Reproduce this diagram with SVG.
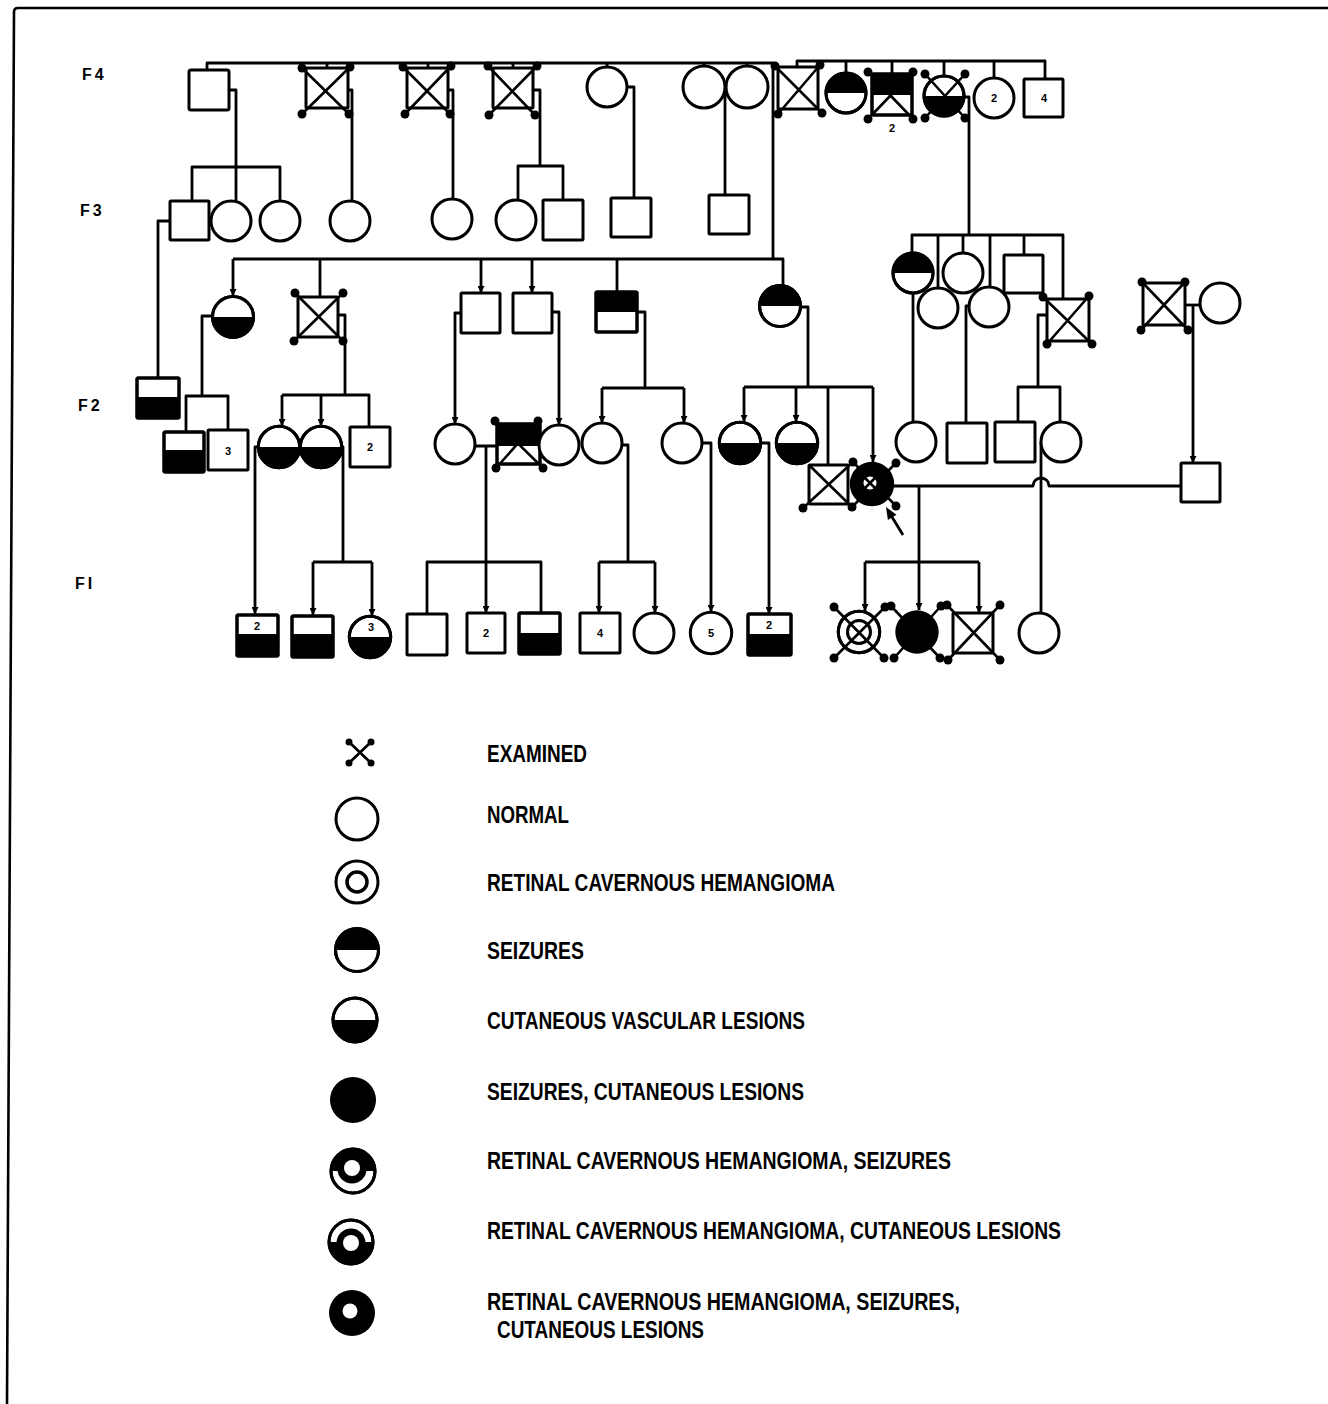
<svg xmlns="http://www.w3.org/2000/svg" width="1328" height="1404" viewBox="0 0 1328 1404">
<style>
.s{fill:#fff;stroke:#000;stroke-width:3}
.o{fill:none;stroke:#000;stroke-width:3}
.k{fill:#000}
.l{fill:none;stroke:#000;stroke-width:2.8;stroke-linejoin:round}
.x{fill:none;stroke:#000;stroke-width:2.6}
.n{font-family:"Liberation Sans",Arial,sans-serif;font-weight:bold;font-size:11px;text-anchor:middle}
.g{font-family:"Liberation Sans",Arial,sans-serif;font-weight:bold;font-size:16px;letter-spacing:3px}
.t{font-family:"Liberation Sans",Arial,sans-serif;font-weight:bold;font-size:23px}
</style>
<defs>
<marker id="a" viewBox="0 0 8 8" refX="8" refY="4" markerWidth="7" markerHeight="7" markerUnits="userSpaceOnUse" orient="auto"><path d="M0,0L8,4L0,8z"/></marker>
</defs>
<rect width="1328" height="1404" fill="#fff"/>
<path d="M7,1404L14,12Q14,8 18,8L1328,8" fill="none" stroke="#000" stroke-width="2.6"/>
<g id="gen-labels">
<text class="g" x="82" y="80">F4</text>
<text class="g" x="80" y="216">F3</text>
<text class="g" x="78" y="411">F2</text>
<text class="g" x="75" y="589">FI</text>
</g>
<g id="connectors">
<path class="l" d="M207,71V63H773V259"/>
<path class="l" d="M327,63V68M428,63V68M513,63V68M607,63V67M704,63V66M747,63V66"/>
<path class="l" d="M797,67V61H1045V79M846,61V73M892,61V74M944,61V76M994,61V78"/>
<path class="l" d="M229,90H236V201M192,201V167H280V201"/>
<path class="l" d="M170,221H158V378"/>
<path class="l" d="M348,90H352V201"/>
<path class="l" d="M448,90H453V199"/>
<path class="l" d="M533,90H540V166M518,200V166H563V200"/>
<path class="l" d="M627,87H634V198"/>
<path class="l" d="M725,87V195"/>
<path class="l" d="M964,97H969V235M912,253V235H1063V298M938,235V288M963,235V253M990,235V287M1024,235V255"/>
<path class="l" d="M233,259H783V286M320,259V297M617,259V292"/>
<path class="l" d="M233,259V296" marker-end="url(#a)"/>
<path class="l" d="M481,259V293" marker-end="url(#a)"/>
<path class="l" d="M532,259V293" marker-end="url(#a)"/>
<path class="l" d="M338,315H345V395M282,395H369V427"/>
<path class="l" d="M282,395V426" marker-end="url(#a)"/>
<path class="l" d="M321,395V426" marker-end="url(#a)"/>
<path class="l" d="M213,316H202V396M186,432V396H228V430"/>
<path class="l" d="M258,447H255V614" marker-end="url(#a)"/>
<path class="l" d="M342,447H343V562M313,562H372"/>
<path class="l" d="M313,562V615" marker-end="url(#a)"/>
<path class="l" d="M372,562V616" marker-end="url(#a)"/>
<path class="l" d="M461,313H455V424" marker-end="url(#a)"/>
<path class="l" d="M475,446H497M486,446V562M427,614V562H541V613"/>
<path class="l" d="M486,562V613" marker-end="url(#a)"/>
<path class="l" d="M552,312H559V425" marker-end="url(#a)"/>
<path class="l" d="M637,312H645V388M602,388H684"/>
<path class="l" d="M602,388V423" marker-end="url(#a)"/>
<path class="l" d="M684,388V423" marker-end="url(#a)"/>
<path class="l" d="M622,445H628V562M599,562H655"/>
<path class="l" d="M599,562V613" marker-end="url(#a)"/>
<path class="l" d="M655,562V613" marker-end="url(#a)"/>
<path class="l" d="M702,443H711V612" marker-end="url(#a)"/>
<path class="l" d="M800,307H808V387M744,387H873M828,387V465"/>
<path class="l" d="M744,387V422" marker-end="url(#a)"/>
<path class="l" d="M796,387V422" marker-end="url(#a)"/>
<path class="l" d="M873,387V462" marker-end="url(#a)"/>
<path class="l" d="M761,443H769V614" marker-end="url(#a)"/>
<path class="l" d="M893,486H1033A8,8 0 0 1 1049,486H1181"/>
<path class="l" d="M919,486V562M865,562H979"/>
<path class="l" d="M865,562V611" marker-end="url(#a)"/>
<path class="l" d="M919,562V610" marker-end="url(#a)"/>
<path class="l" d="M979,562V613" marker-end="url(#a)"/>
<path class="l" d="M913,293V422"/>
<path class="l" d="M969,306H966V423"/>
<path class="l" d="M1047,315H1038V387M1018,422V387H1060V422"/>
<path class="l" d="M1041,442V613"/>
<path class="l" d="M1043,293V297"/>
<path class="l" d="M1185,305H1200"/>
<path class="l" d="M1193,305V463" marker-end="url(#a)"/>
<path class="l" d="M903,535L892,517"/>
<polygon class="k" points="886,507 896.5,514.7 887.9,519.9"/>
</g>
<g id="f4-1"><rect class="s" x="189" y="70" width="40" height="40" rx="2"/></g>
<g id="f4-2"><rect class="s" x="306" y="68" width="42" height="40" rx="1"/><path class="x" d="M302,68L349,114M350,67L302,114"/><circle class="k" cx="302" cy="68" r="4.5"/><circle class="k" cx="350" cy="67" r="4.5"/><circle class="k" cx="302" cy="114" r="4.5"/><circle class="k" cx="349" cy="114" r="4.5"/></g>
<g id="f4-3"><rect class="s" x="407" y="68" width="41" height="40" rx="1"/><path class="x" d="M403,67L450,114M451,66L405,114"/><circle class="k" cx="403" cy="67" r="4.5"/><circle class="k" cx="451" cy="66" r="4.5"/><circle class="k" cx="405" cy="114" r="4.5"/><circle class="k" cx="450" cy="114" r="4.5"/></g>
<g id="f4-4"><rect class="s" x="493" y="68" width="40" height="40" rx="1"/><path class="x" d="M488,66L535,115M537,66L489,115"/><circle class="k" cx="488" cy="66" r="4.5"/><circle class="k" cx="537" cy="66" r="4.5"/><circle class="k" cx="489" cy="115" r="4.5"/><circle class="k" cx="535" cy="115" r="4.5"/></g>
<g id="f4-5"><circle class="s" cx="607" cy="87" r="20"/></g>
<g id="f4-6"><circle class="s" cx="704" cy="87" r="21"/></g>
<g id="f4-7"><circle class="s" cx="747" cy="87" r="21"/></g>
<g id="f4-8"><rect class="s" x="778" y="67" width="40" height="42" rx="1"/><path class="x" d="M775,66L822,113M820,65L778,114"/><circle class="k" cx="775" cy="66" r="4.5"/><circle class="k" cx="820" cy="65" r="4.5"/><circle class="k" cx="778" cy="114" r="4.5"/><circle class="k" cx="822" cy="113" r="4.5"/></g>
<g id="f4-9"><circle class="s" cx="846" cy="93" r="20"/><path class="k" d="M826,93A20,20 0 0 1 866,93Z"/><circle class="o" cx="846" cy="93" r="20"/></g>
<g id="f4-10"><rect class="s" x="872" y="74" width="40" height="41" rx="1"/><rect class="k" x="872" y="74" width="40" height="21"/><path class="x" d="M868,72L913,119M913,72L868,119"/><rect class="o" x="872" y="74" width="40" height="41" rx="1"/><circle class="k" cx="868" cy="72" r="4.5"/><circle class="k" cx="913" cy="72" r="4.5"/><circle class="k" cx="868" cy="119" r="4.5"/><circle class="k" cx="913" cy="119" r="4.5"/><text class="n" x="892" y="132">2</text></g>
<g id="f4-11"><circle class="s" cx="944" cy="96" r="20"/><path class="k" d="M924,96A20,20 0 0 0 964,96Z"/><path class="x" d="M925,74L965,118M965,74L925,118"/><circle class="o" cx="944" cy="96" r="20"/><circle class="k" cx="925" cy="74" r="4.5"/><circle class="k" cx="965" cy="74" r="4.5"/><circle class="k" cx="925" cy="118" r="4.5"/><circle class="k" cx="965" cy="118" r="4.5"/></g>
<g id="f4-12"><circle class="s" cx="994" cy="98" r="20"/><text class="n" x="994" y="102">2</text></g>
<g id="f4-13"><rect class="s" x="1024" y="79" width="39" height="38" rx="1"/><text class="n" x="1044" y="102">4</text></g>
<g id="f3-1"><rect class="s" x="170" y="201" width="39" height="39" rx="1"/></g>
<g id="f3-2"><circle class="s" cx="231" cy="221" r="20"/></g>
<g id="f3-3"><circle class="s" cx="280" cy="221" r="20"/></g>
<g id="f3-4"><circle class="s" cx="350" cy="221" r="20"/></g>
<g id="f3-5"><circle class="s" cx="452" cy="219" r="20"/></g>
<g id="f3-6"><circle class="s" cx="516" cy="220" r="20"/></g>
<g id="f3-7"><rect class="s" x="543" y="200" width="40" height="40" rx="1"/></g>
<g id="f3-8"><rect class="s" x="611" y="198" width="40" height="39" rx="1"/></g>
<g id="f3-9"><rect class="s" x="709" y="195" width="40" height="39" rx="1"/></g>
<g id="f2u-1"><circle class="s" cx="233" cy="317" r="20.5"/><path class="k" d="M212.5,317A20.5,20.5 0 0 0 253.5,317Z"/><circle class="o" cx="233" cy="317" r="20.5"/></g>
<g id="f2u-2"><rect class="s" x="298" y="297" width="40" height="40" rx="1"/><path class="x" d="M295,293L343,341M343,293L294,341"/><circle class="k" cx="295" cy="293" r="4.5"/><circle class="k" cx="343" cy="293" r="4.5"/><circle class="k" cx="294" cy="341" r="4.5"/><circle class="k" cx="343" cy="341" r="4.5"/></g>
<g id="f2u-3"><rect class="s" x="461" y="293" width="39" height="40" rx="1"/></g>
<g id="f2u-4"><rect class="s" x="513" y="293" width="39" height="40" rx="1"/></g>
<g id="f2u-5"><rect class="s" x="596" y="292" width="41" height="40" rx="1"/><rect class="k" x="596" y="292" width="41" height="20"/><rect class="o" x="596" y="292" width="41" height="40" rx="1"/></g>
<g id="f2u-6"><circle class="s" cx="780" cy="306" r="20.5"/><path class="k" d="M759.5,306A20.5,20.5 0 0 1 800.5,306Z"/><circle class="o" cx="780" cy="306" r="20.5"/></g>
<g id="f3r-1"><circle class="s" cx="913" cy="273" r="20"/><path class="k" d="M893,273A20,20 0 0 1 933,273Z"/><circle class="o" cx="913" cy="273" r="20"/></g>
<g id="f3r-3"><circle class="s" cx="963" cy="273" r="20"/></g>
<g id="f3r-2"><circle class="s" cx="938" cy="308" r="20"/></g>
<g id="f3r-4"><circle class="s" cx="989" cy="307" r="20"/></g>
<g id="f3r-5"><rect class="s" x="1004" y="255" width="39" height="38" rx="1"/></g>
<g id="f3r-6"><rect class="s" x="1047" y="299" width="42" height="42" rx="1"/><path class="x" d="M1043,297L1092,344M1089,296L1047,344"/><circle class="k" cx="1043" cy="297" r="4.5"/><circle class="k" cx="1089" cy="296" r="4.5"/><circle class="k" cx="1047" cy="344" r="4.5"/><circle class="k" cx="1092" cy="344" r="4.5"/></g>
<g id="f3r-7"><rect class="s" x="1143" y="283" width="42" height="42" rx="1"/><path class="x" d="M1142,282L1188,330M1185,282L1141,330"/><circle class="k" cx="1142" cy="282" r="4.5"/><circle class="k" cx="1185" cy="282" r="4.5"/><circle class="k" cx="1141" cy="330" r="4.5"/><circle class="k" cx="1188" cy="330" r="4.5"/></g>
<g id="f3r-8"><circle class="s" cx="1220" cy="303" r="20"/></g>
<g id="f2-1"><rect class="s" x="137" y="378" width="42" height="40" rx="1"/><rect class="k" x="137" y="397" width="42" height="21"/><rect class="o" x="137" y="378" width="42" height="40" rx="1"/></g>
<g id="f2-2"><rect class="s" x="164" y="432" width="40" height="40" rx="1"/><rect class="k" x="164" y="450" width="40" height="22"/><rect class="o" x="164" y="432" width="40" height="40" rx="1"/></g>
<g id="f2-3"><rect class="s" x="208" y="430" width="40" height="40" rx="1"/><text class="n" x="228" y="455">3</text></g>
<g id="f2-4"><circle class="s" cx="279" cy="447" r="20.7"/><path class="k" d="M258.3,447A20.7,20.7 0 0 0 299.7,447Z"/><circle class="o" cx="279" cy="447" r="20.7"/></g>
<g id="f2-5"><circle class="s" cx="321" cy="447" r="20.7"/><path class="k" d="M300.3,447A20.7,20.7 0 0 0 341.7,447Z"/><circle class="o" cx="321" cy="447" r="20.7"/></g>
<g id="f2-6"><rect class="s" x="350" y="427" width="40" height="40" rx="1"/><text class="n" x="370" y="451">2</text></g>
<g id="f2-7"><circle class="s" cx="455" cy="444" r="20"/></g>
<g id="f2-8"><rect class="s" x="497" y="424" width="43" height="40" rx="1"/><rect class="k" x="497" y="424" width="43" height="22"/><path class="x" d="M496,422L543,468M538,421L496,468"/><rect class="o" x="497" y="424" width="43" height="40" rx="1"/><circle class="k" cx="495" cy="421" r="4.5"/><circle class="k" cx="538" cy="421" r="4.5"/><circle class="k" cx="496" cy="468" r="4.5"/><circle class="k" cx="543" cy="468" r="4.5"/></g>
<g id="f2-9"><circle class="s" cx="559" cy="445" r="20"/></g>
<g id="f2-10"><circle class="s" cx="602" cy="443" r="20"/></g>
<g id="f2-11"><circle class="s" cx="682" cy="443" r="20"/></g>
<g id="f2-12"><circle class="s" cx="740" cy="443" r="20.7"/><path class="k" d="M719.3,443A20.7,20.7 0 0 0 760.7,443Z"/><circle class="o" cx="740" cy="443" r="20.7"/></g>
<g id="f2-13"><circle class="s" cx="797" cy="443" r="20.7"/><path class="k" d="M776.3,443A20.7,20.7 0 0 0 817.7,443Z"/><circle class="o" cx="797" cy="443" r="20.7"/></g>
<g id="f2-14"><rect class="s" x="809" y="465" width="39" height="39" rx="1"/><path class="x" d="M809,465L852,507M853,462L803,508"/><circle class="k" cx="853" cy="462" r="4.5"/><circle class="k" cx="803" cy="508" r="4.5"/><circle class="k" cx="852" cy="507" r="4.5"/></g>
<g id="f2-proband"><path class="x" d="M853,462L896,506M896,463L852,507"/><circle cx="872" cy="484" r="20.7" fill="#000" stroke="#000" stroke-width="3"/><circle cx="870" cy="483" r="6.5" fill="#fff"/><path class="x" d="M864,477L876,489M876,477L864,489" stroke-width="2"/><circle class="k" cx="896" cy="463" r="4.5"/><circle class="k" cx="896" cy="506" r="4.5"/></g>
<g id="f2-15"><circle class="s" cx="916" cy="442" r="20"/></g>
<g id="f2-16"><rect class="s" x="947" y="423" width="40" height="40" rx="1"/></g>
<g id="f2-17"><rect class="s" x="995" y="422" width="40" height="40" rx="1"/></g>
<g id="f2-18"><circle class="s" cx="1061" cy="442" r="20"/></g>
<g id="f2-19"><rect class="s" x="1181" y="463" width="39" height="39" rx="1"/></g>
<g id="f1-1"><rect class="s" x="237" y="615" width="41" height="41" rx="1"/><rect class="k" x="237" y="634" width="41" height="22"/><rect class="o" x="237" y="615" width="41" height="41" rx="1"/><text class="n" x="257" y="630">2</text></g>
<g id="f1-2"><rect class="s" x="292" y="616" width="41" height="41" rx="1"/><rect class="k" x="292" y="634" width="41" height="23"/><rect class="o" x="292" y="616" width="41" height="41" rx="1"/></g>
<g id="f1-3"><circle class="s" cx="370" cy="637" r="20.7"/><path class="k" d="M349.3,637A20.7,20.7 0 0 0 390.7,637Z"/><circle class="o" cx="370" cy="637" r="20.7"/><text class="n" x="371" y="631">3</text></g>
<g id="f1-4"><rect class="s" x="407" y="614" width="40" height="41" rx="1"/></g>
<g id="f1-5"><rect class="s" x="467" y="613" width="38" height="40" rx="1"/><text class="n" x="486" y="637">2</text></g>
<g id="f1-6"><rect class="s" x="519" y="613" width="41" height="41" rx="1"/><rect class="k" x="519" y="633" width="41" height="21"/><rect class="o" x="519" y="613" width="41" height="41" rx="1"/></g>
<g id="f1-7"><rect class="s" x="580" y="613" width="40" height="40" rx="1"/><text class="n" x="600" y="637">4</text></g>
<g id="f1-8"><circle class="s" cx="654" cy="633" r="20"/></g>
<g id="f1-9"><circle class="s" cx="711" cy="633" r="20.7"/><text class="n" x="711" y="637">5</text></g>
<g id="f1-10"><rect class="s" x="748" y="614" width="43" height="41" rx="1"/><rect class="k" x="748" y="634" width="43" height="21"/><rect class="o" x="748" y="614" width="43" height="41" rx="1"/><text class="n" x="769" y="629">2</text></g>
<g id="f1-11"><circle class="s" cx="859" cy="632" r="20.7"/><circle class="o" cx="859" cy="632" r="11.5"/><path class="x" d="M834,607L884,658M885,607L834,658"/><circle class="o" cx="859" cy="632" r="20.7"/><circle class="k" cx="834" cy="607" r="4.5"/><circle class="k" cx="885" cy="607" r="4.5"/><circle class="k" cx="834" cy="658" r="4.5"/><circle class="k" cx="884" cy="658" r="4.5"/></g>
<g id="f1-12"><path class="x" d="M891,606L940,658M941,606L894,658"/><circle cx="917" cy="632" r="21.7" fill="#000"/><circle class="k" cx="891" cy="606" r="4.5"/><circle class="k" cx="941" cy="606" r="4.5"/><circle class="k" cx="894" cy="658" r="4.5"/><circle class="k" cx="940" cy="658" r="4.5"/></g>
<g id="f1-13"><rect class="s" x="953" y="613" width="40" height="40" rx="1"/><path class="x" d="M947,605L1000,660M1000,605L948,660"/><circle class="k" cx="947" cy="605" r="4.5"/><circle class="k" cx="1000" cy="605" r="4.5"/><circle class="k" cx="948" cy="660" r="4.5"/><circle class="k" cx="1000" cy="660" r="4.5"/></g>
<g id="f1-14"><circle class="s" cx="1039" cy="633" r="20"/></g>
<g id="legend">
<g id="lg-examined"><path class="x" d="M349,742L371,763M371,742L349,763" stroke-width="3"/><circle class="k" cx="349" cy="742" r="3.5"/><circle class="k" cx="371" cy="742" r="3.5"/><circle class="k" cx="349" cy="763" r="3.5"/><circle class="k" cx="371" cy="763" r="3.5"/>
<text class="t" x="487" y="762" textLength="100" lengthAdjust="spacingAndGlyphs">EXAMINED</text></g>
<g id="lg-normal"><circle class="s" cx="357" cy="819" r="21"/>
<text class="t" x="487" y="823" textLength="82" lengthAdjust="spacingAndGlyphs">NORMAL</text></g>
<g id="lg-retinal"><circle class="s" cx="357" cy="882" r="21"/><circle cx="357" cy="882" r="10" fill="none" stroke="#000" stroke-width="3.5"/>
<text class="t" x="487" y="891" textLength="348" lengthAdjust="spacingAndGlyphs">RETINAL CAVERNOUS HEMANGIOMA</text></g>
<g id="lg-seizures"><circle class="s" cx="357" cy="950" r="21.5"/><path class="k" d="M335.5,950A21.5,21.5 0 0 1 378.5,950Z"/><circle class="o" cx="357" cy="950" r="21.5"/>
<text class="t" x="487" y="959" textLength="97" lengthAdjust="spacingAndGlyphs">SEIZURES</text></g>
<g id="lg-cutaneous"><circle class="s" cx="355" cy="1020" r="22"/><path class="k" d="M333,1020A22,22 0 0 0 377,1020Z"/><circle class="o" cx="355" cy="1020" r="22"/>
<text class="t" x="487" y="1029" textLength="318" lengthAdjust="spacingAndGlyphs">CUTANEOUS VASCULAR LESIONS</text></g>
<g id="lg-sc"><circle cx="353" cy="1100" r="23" fill="#000"/>
<text class="t" x="487" y="1100" textLength="317" lengthAdjust="spacingAndGlyphs">SEIZURES, CUTANEOUS LESIONS</text></g>
<g id="lg-rs"><circle class="s" cx="353" cy="1171" r="22"/><path class="k" d="M331,1171A22,22 0 0 1 375,1171Z"/><circle class="k" cx="352" cy="1169" r="14.5"/><circle cx="352" cy="1168" r="8" fill="#fff"/><circle class="o" cx="353" cy="1171" r="22"/>
<text class="t" x="487" y="1169" textLength="464" lengthAdjust="spacingAndGlyphs">RETINAL CAVERNOUS HEMANGIOMA, SEIZURES</text></g>
<g id="lg-rc"><circle class="s" cx="351" cy="1242" r="22"/><path class="k" d="M329,1242A22,22 0 0 0 373,1242Z"/><circle class="k" cx="351" cy="1243" r="14.5"/><circle cx="351" cy="1243" r="8" fill="#fff"/><circle class="o" cx="351" cy="1242" r="22"/>
<text class="t" x="487" y="1239" textLength="574" lengthAdjust="spacingAndGlyphs">RETINAL CAVERNOUS HEMANGIOMA, CUTANEOUS LESIONS</text></g>
<g id="lg-rsc"><circle cx="352" cy="1313" r="23" fill="#000"/><circle cx="350" cy="1311" r="7.5" fill="#fff"/>
<text class="t" x="487" y="1310" textLength="473" lengthAdjust="spacingAndGlyphs">RETINAL CAVERNOUS HEMANGIOMA, SEIZURES,</text>
<text class="t" x="497" y="1338" textLength="207" lengthAdjust="spacingAndGlyphs">CUTANEOUS LESIONS</text></g>
</g>
</svg>
